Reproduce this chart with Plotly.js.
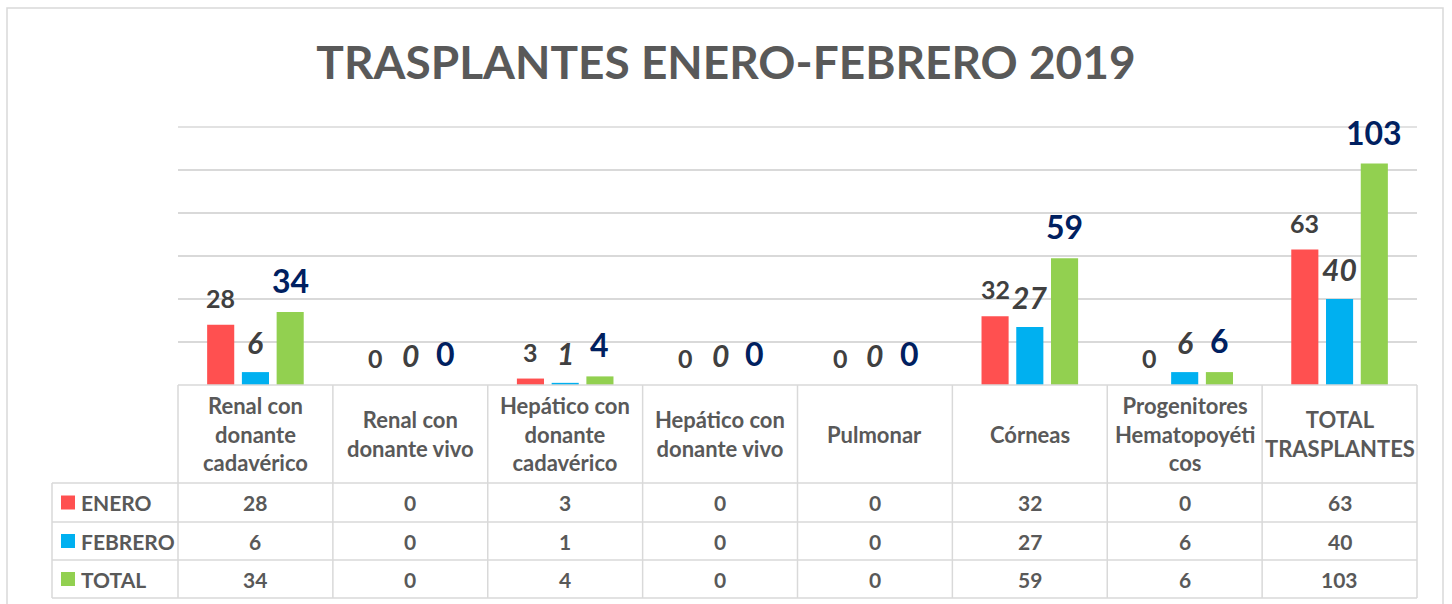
<!DOCTYPE html>
<html>
<head>
<meta charset="utf-8">
<script src="https://cdn.plot.ly/plotly-3.0.1.min.js"></script>
<style>html,body{margin:0;padding:0;background:#fff;}#chart{width:1452px;height:604px;}</style>
</head>
<body>
<div id="chart"></div>
<script>
// ---- data ----
const categories = ['Renal con donante cadavérico','Renal con donante vivo','Hepático con donante cadavérico','Hepático con donante vivo','Pulmonar','Córneas','Progenitores Hematopoyéticos','TOTAL TRASPLANTES'];
const headerLabels = ['Renal con<br>donante<br>cadavérico','Renal con<br>donante vivo','Hepático con<br>donante<br>cadavérico','Hepático con<br>donante vivo','Pulmonar','Córneas','Progenitores<br>Hematopoyéti<br>cos','TOTAL<br>TRASPLANTES'];
const seriesNames = ['ENERO','FEBRERO','TOTAL'];
const enero = [28,0,3,0,0,32,0,63];
const febrero = [6,0,1,0,0,27,6,40];
const total = [34,0,4,0,0,59,6,103];
const titleText = 'TRASPLANTES ENERO-FEBRERO 2019';

// ---- styling ----
const W = 1452, H = 604;
const L = 178, R = 1417, T = 127, B = 385;
const colors = ['#FF5050','#00B0F0','#92D050'];
const labelFonts = [
  {family:'Lato', size:25, color:'#404040', weight:700},
  {family:'Lato', size:30, color:'#404040', weight:700, style:'italic'},
  {family:'Lato', size:32, color:'#002060', weight:700}
];
const gridCol = '#D9D9D9';
const textCol = '#595959';
const px2x = p => (p - L) / (R - L);
const py2y = p => (B - p) / (B - T);

const series = [enero, febrero, total];
const traces = series.map((vals, s) => ({
  type:'bar', name:seriesNames[s], x:categories, y:vals,
  marker:{color:colors[s]}, hoverinfo:'skip', showlegend:false
}));

const annotations = [];
const shapes = [];
const slot = (R - L) / categories.length * (1 - 0.327) / 3;

// value labels above bars
series.forEach((vals, s) => {
  vals.forEach((v, i) => {
    annotations.push({
      x:categories[i], y:v, xref:'x', yref:'y', text:String(v), showarrow:false,
      xanchor:'center', yanchor:'bottom', xshift:(s-1)*slot, yshift:10,
      font:labelFonts[s]
    });
  });
});

// top gridline (axis max)
shapes.push({type:'line', xref:'paper', yref:'paper', x0:0, x1:1, y0:1, y1:1, line:{color:gridCol, width:1.5}, layer:'below'});

// table geometry
const rowEdges = [483, 522, 560, 598];
const legendLeft = 52;
const lineStyle = {color:gridCol, width:1.5};
shapes.push({type:'line', xref:'paper', yref:'paper', x0:0, x1:1, y0:0, y1:0, line:lineStyle});
rowEdges.forEach(r => shapes.push({type:'line', xref:'paper', yref:'paper', x0:px2x(legendLeft), x1:1, y0:py2y(r), y1:py2y(r), line:lineStyle}));
for (let k = 0; k <= categories.length; k++) {
  shapes.push({type:'line', xref:'paper', yref:'paper', x0:k/categories.length, x1:k/categories.length, y0:0, y1:py2y(rowEdges[3]), line:lineStyle});
}
shapes.push({type:'line', xref:'paper', yref:'paper', x0:px2x(legendLeft), x1:px2x(legendLeft), y0:py2y(rowEdges[0]), y1:py2y(rowEdges[3]), line:lineStyle});
// outer chart border
shapes.push({type:'rect', xref:'paper', yref:'paper', x0:px2x(7), x1:px2x(1443), y0:py2y(8), y1:py2y(640), line:{color:gridCol, width:1.5}, layer:'below'});

const tableFont = {family:'Lato', size:21, color:textCol, weight:700};
const headerFont = {family:'Lato', size:22, color:textCol, weight:700};
headerLabels.forEach((h, i) => {
  annotations.push({x:categories[i], xref:'x', yref:'paper', y:py2y((B+rowEdges[0])/2), text:h, showarrow:false, xanchor:'center', yanchor:'middle', font:headerFont});
});
series.forEach((vals, s) => {
  const yc = py2y((rowEdges[s] + rowEdges[s+1]) / 2);
  shapes.push({type:'rect', xref:'paper', yref:'paper', x0:px2x(61), x1:px2x(75), y0:yc - 7/(B-T), y1:yc + 7/(B-T), fillcolor:colors[s], line:{width:0}});
  annotations.push({x:px2x(79), xref:'paper', yref:'paper', y:yc, text:seriesNames[s], showarrow:false, xanchor:'left', yanchor:'middle', font:tableFont});
  vals.forEach((v, i) => {
    annotations.push({x:categories[i], xref:'x', yref:'paper', y:yc, text:String(v), showarrow:false, xanchor:'center', yanchor:'middle', font:tableFont});
  });
});

const layout = {
  width:W, height:H,
  margin:{l:L, r:W-R, t:T, b:H-B, pad:0},
  paper_bgcolor:'#fff', plot_bgcolor:'#fff',
  title:{text:titleText, x:0.5, xref:'container', xanchor:'center', y:(H-63)/H, yref:'container', yanchor:'middle',
    font:{family:'Lato', size:46, color:textCol, weight:700}},
  barmode:'group', bargap:0.327, bargroupgap:0.22,
  xaxis:{type:'category', showticklabels:false, showgrid:false, zeroline:false, showline:false, ticks:'', fixedrange:true},
  yaxis:{range:[0,120], dtick:20, showticklabels:false, gridcolor:gridCol, gridwidth:1.5, zeroline:false, showline:false, ticks:'', fixedrange:true},
  showlegend:false,
  shapes:shapes, annotations:annotations
};
Plotly.newPlot('chart', traces, layout, {displayModeBar:false, staticPlot:true});
</script>
</body>
</html>
